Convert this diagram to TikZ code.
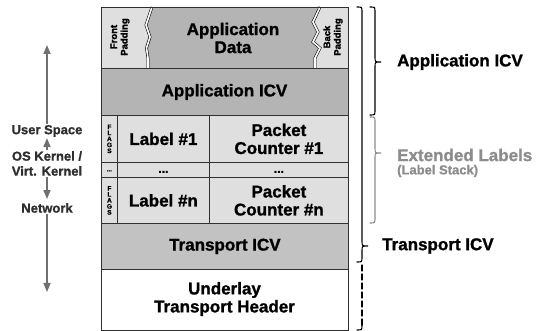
\documentclass[tikz,border=0pt]{standalone}
\usepackage{fontspec}
\setmainfont{Liberation Sans}[BoldFont={Liberation Sans Bold}, BoldFeatures={FakeBold=1.2}]
\usetikzlibrary{arrows.meta}
\definecolor{dk}{HTML}{B4B4B4}
\definecolor{md}{HTML}{C2C2C2}
\definecolor{lt}{HTML}{DFDFDF}
\definecolor{ln}{HTML}{303030}
\definecolor{gtxt}{HTML}{8C8C8C}
\definecolor{arr}{HTML}{707070}
\definecolor{ltxt}{HTML}{2E2E2E}
\begin{document}
\begin{tikzpicture}[x=1pt,y=-1pt,
  big/.style={font=\fontsize{17}{18}\selectfont\bfseries, align=center, text=black, inner sep=0pt},
  cell/.style={draw=ln, line width=0.8pt, inner sep=0pt, anchor=north west},
  small/.style={font=\fontsize{9.5}{10.5}\selectfont\bfseries, align=center, rotate=90, inner sep=0pt},
  flagtxt/.style={font=\fontsize{6.5}{6}\selectfont\bfseries, align=center, inner sep=0pt},
  lefttxt/.style={font=\fontsize{13}{15}\selectfont\bfseries, align=center, text=ltxt, inner sep=1pt},
  larr/.style={draw=arr, line width=1.6pt, -{Triangle[width=7pt,length=9pt]}},
  brc/.style={draw=black, line width=1.1pt, line cap=round},
  zig/.style={draw=black, line width=0.6pt, double=white, double distance=1.6pt}
]
\useasboundingbox (0,0) rectangle (539,331);

% row 1: paddings and application data
\fill[lt] (101,7) rectangle (348,68);
\fill[dk] (152,7) -- (146,25) -- (150,37) -- (146.5,48) -- (148,58) -- (148,68)
  -- (315,68) -- (315,58) -- (320,48) -- (313,42) -- (318,32) -- (313,22) -- (320,7) -- cycle;
\draw[zig] (152,7) -- (146,25) -- (150,37) -- (146.5,48) -- (148,58) -- (148,68);
\draw[zig] (320,7) -- (313,22) -- (318,32) -- (313,42) -- (320,48) -- (315,58) -- (315,68);
\draw[draw=ln, line width=0.8pt] (101,7) rectangle (348,68);
\node[small] (fp) at (120,37) {Front\\Padding};
\node[small] (bp) at (333,37) {Back\\Padding};
\node[big] (ad) at (233,38) {Application\\Data};

% row 2
\node[cell, fill=dk, minimum width=247pt, minimum height=47pt] (aicv) at (101,68) {};
\node[big] (aicvt) at (224.5,92) {Application ICV};

% row 3
\node[cell, fill=lt, minimum width=16pt, minimum height=47pt] (f1) at (101,115) {};
\node[cell, fill=lt, minimum width=92pt, minimum height=47pt] (l1) at (117,115) {};
\node[cell, fill=lt, minimum width=139pt, minimum height=47pt] (c1) at (209,115) {};
\node[flagtxt] (f1t) at (f1.center) {F\\L\\A\\G\\S};
\node[big] (l1t) at (l1.center) {Label \#1};
\node[big] (c1t) at (c1.center) {Packet\\Counter \#1};

% row 4
\node[cell, fill=lt, minimum width=16pt, minimum height=15pt] (fd) at (101,162) {};
\node[cell, fill=lt, minimum width=92pt, minimum height=15pt] (ld) at (117,162) {};
\node[cell, fill=lt, minimum width=139pt, minimum height=15pt] (cd) at (209,162) {};
\node[flagtxt, yshift=-1pt] (fdt) at (fd.center) {...};
\node[big, font=\fontsize{12}{12}\selectfont\bfseries, yshift=-2pt] (ldt) at (ld.center) {...};
\node[big, font=\fontsize{12}{12}\selectfont\bfseries, yshift=-2pt] (cdt) at (cd.center) {...};

% row 5
\node[cell, fill=lt, minimum width=16pt, minimum height=46pt] (fn) at (101,177) {};
\node[cell, fill=lt, minimum width=92pt, minimum height=46pt] (ln) at (117,177) {};
\node[cell, fill=lt, minimum width=139pt, minimum height=46pt] (cn) at (209,177) {};
\node[flagtxt] (fnt) at (fn.center) {F\\L\\A\\G\\S};
\node[big] (lnt) at (ln.center) {Label \#n};
\node[big] (cnt) at (cn.center) {Packet\\Counter \#n};

% row 6
\node[cell, fill=md, minimum width=247pt, minimum height=46pt] (ticv) at (101,223) {};
\node[big] (ticvt) at (ticv.center) {Transport ICV};

% row 7
\node[cell, fill=white, minimum width=247pt, minimum height=61pt] (uth) at (101,269) {};
\node[big] (utht) at (224.5,299) {Underlay\\Transport Header};

% left side
\coordinate (atop) at (47,45);
\coordinate (abot) at (47,292);
\node[lefttxt] (us) at (47,131) {User Space};
\node[lefttxt] (os) at (47,163.5) {OS Kernel /\\Virt. Kernel};
\node[lefttxt] (net) at (47,208) {Network};
\draw[larr] (us.north) -- (atop);
\draw[larr] (os.north) -- (us.south);
\draw[larr, shorten >=3pt] (os.south) -- (net.north);
\draw[larr] (net.south) -- (abot);

% right braces
\draw[brc] (370,7) .. controls (375,7) .. (375,12) -- (375,57)
  .. controls (375,62) .. (381,62) .. controls (375,62) .. (375,67)
  -- (375,110) .. controls (375,115) .. (370,115);
\node[big, anchor=west] (lab1) at (397,62) {Application ICV};

\draw[brc, draw=gtxt] (370,117) .. controls (375,117) .. (375,122) -- (375,148)
  .. controls (375,153) .. (381,153) .. controls (375,153) .. (375,158)
  -- (375,218) .. controls (375,223) .. (370,223);
\node[big, anchor=west, text=gtxt] (lab2) at (397,155) {Extended Labels};
\node[big, anchor=west, text=gtxt, font=\fontsize{13}{14}\selectfont\bfseries] (lab2b) at (397,171) {(Label Stack)};

\draw[brc] (357,7) .. controls (362,7) .. (362,12) -- (362,241)
  .. controls (362,246) .. (368,246) .. controls (362,246) .. (362,251)
  -- (362,257) .. controls (362,262) .. (357,262);
\draw[brc, dashed, dash pattern=on 6pt off 3pt] (362,265) -- (362,325);
\draw[brc] (362,325) .. controls (362,330) .. (357,330);
\node[big, anchor=west] (lab3) at (382,246) {Transport ICV};
\end{tikzpicture}
\end{document}
